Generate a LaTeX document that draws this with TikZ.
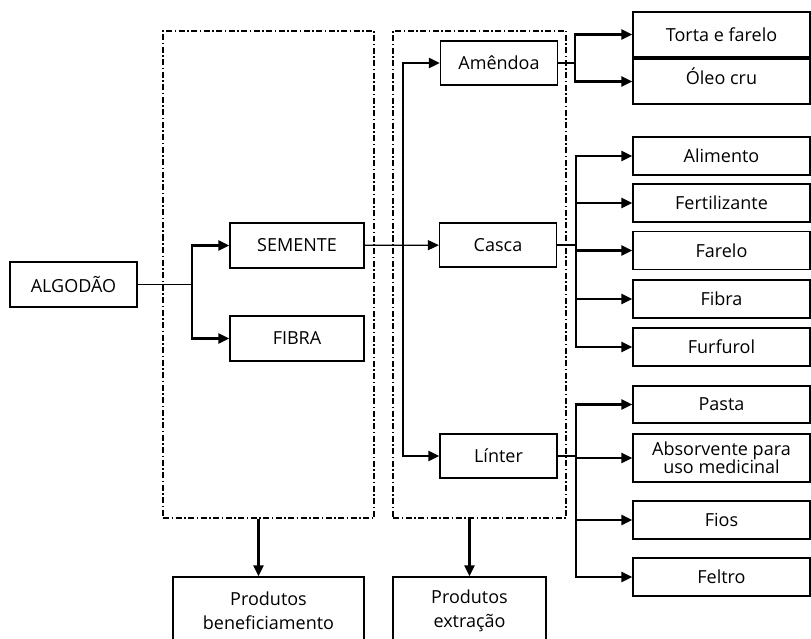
\documentclass[tikz,border=0pt]{standalone}
\usepackage{fontspec}
\setmainfont{Open Sans}
\usetikzlibrary{arrows.meta,positioning}
\begin{document}
\begin{tikzpicture}[
    x=1pt, y=-1pt,
    box/.style={rectangle, draw=black, line width=1.2pt, inner sep=2pt, text centered, font=\fontsize{18}{22}\selectfont},
    outbox/.style={box, minimum width=177pt, minimum height=38pt},
    midbox/.style={box, minimum width=117pt, minimum height=44pt},
    frame/.style={rectangle, draw=black, line width=2pt, dash pattern=on 6pt off 2.5pt on 1.5pt off 2.5pt},
    arrow/.style={-{Triangle[length=11pt,width=10pt]}, line width=2.4pt},
    thinarrow/.style={-{Triangle[length=11pt,width=10pt]}, line width=1.2pt},
    thinline/.style={line width=1.2pt}
]
    \useasboundingbox (0,0) rectangle (811,639);
    % dashed frames
    \node[frame, minimum width=211pt, minimum height=487pt] (frameL) at (268.5,274.5) {};
    \node[frame, minimum width=173pt, minimum height=487pt] (frameR) at (479.5,274.5) {};

    \node[box, minimum width=127pt, minimum height=45pt] (alg) at (73.5,284.5) {ALGODÃO};
    \node[box, minimum width=134pt, minimum height=45pt] (sem) at (297,245.5) {SEMENTE};
    \node[box, minimum width=134pt, minimum height=45pt] (fib) at (297,338.5) {FIBRA};

    \node[midbox] (ame) at (499,63) {Amêndoa};
    \node[midbox] (cas) at (498,245) {Casca};
    \node[midbox] (lin) at (498.5,456) {Línter};

    \node[outbox, minimum height=45pt] (torta) at (721.5,34.5) {Torta e farelo};
    \node[outbox, minimum height=45pt, text depth=11pt] (oleo) at (721.5,81.5) {Óleo cru};
    \node[outbox] (alim) at (721.5,156) {Alimento};
    \node[outbox] (fert) at (721.5,203) {Fertilizante};
    \node[outbox] (far) at (721.5,250.5) {Farelo};
    \node[outbox] (fibra) at (721.5,299) {Fibra};
    \node[outbox] (furf) at (721.5,347) {Furfurol};
    \node[outbox, minimum height=37pt] (pasta) at (721.5,404.5) {Pasta};
    \node[outbox, minimum height=48pt, align=center, font=\fontsize{18}{18}\selectfont] (abs) at (721.5,458) {Absorvente para\\uso medicinal};
    \node[outbox] (fios) at (721.5,520) {Fios};
    \node[outbox] (felt) at (721.5,577) {Feltro};

    \node[box, minimum width=191pt, minimum height=68pt, align=center, font=\fontsize{18}{24}\selectfont] (ben) at (268.5,611) {Produtos\\beneficiamento};
    \node[box, minimum width=153pt, minimum height=68pt, align=center, font=\fontsize{18}{24}\selectfont] (ext) at (469.5,611) {Produtos\\extração};

    \coordinate (forkA) at (192,284.5);
    \coordinate (forkB) at (403,245);
    \coordinate (forkC) at (575,63);
    \coordinate (forkD) at (576,245);
    \coordinate (forkE) at (576,456);

    \draw[thinline] (alg) -- (forkA);
    \draw[arrow] (forkA) |- (sem);
    \draw[arrow] (forkA) |- (fib);

    \draw[thinarrow] (sem) -- (cas);
    \draw[arrow] (forkB) |- (ame);
    \draw[arrow] (forkB) |- (lin);

    \draw[thinline] (ame) -- (forkC);
    \foreach \t in {torta,oleo}
        \draw[arrow] (forkC) |- (\t);

    \draw[thinline] (cas) -- (forkD);
    \foreach \t in {alim,fert,far,fibra,furf}
        \draw[arrow] (forkD) |- (\t);

    \draw[thinline] (lin) -- (forkE);
    \foreach \t in {pasta,abs,fios,felt}
        \draw[arrow] (forkE) |- (\t);

    \draw[arrow] ([xshift=-10pt]frameL.south) -- ([xshift=-10pt]ben.north);
    \draw[arrow] (frameR.south -| ext.north) -- (ext.north);
\end{tikzpicture}
\end{document}
